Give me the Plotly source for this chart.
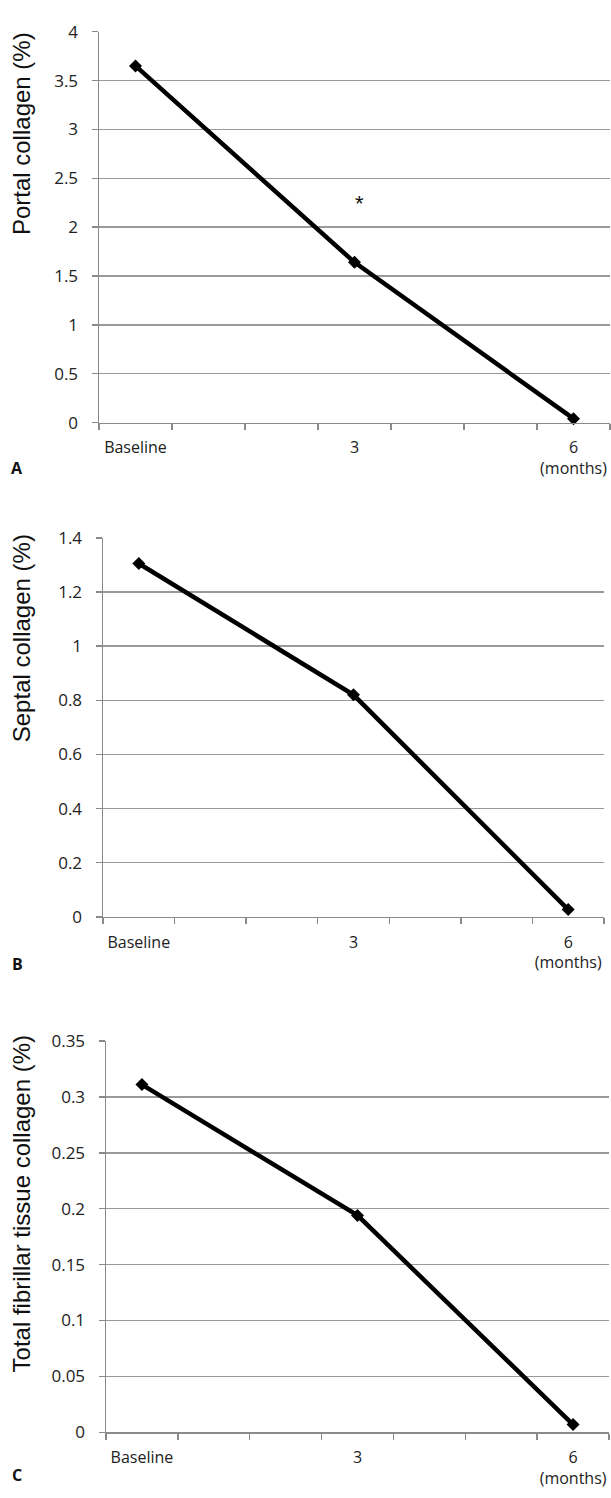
import plotly.graph_objects as go

# ---- data ----
months = [0, 3, 6]
x_labels = ["Baseline", "3", "6<br>(months)"]
portal = [3.65, 1.64, 0.04]
septal = [1.305, 0.82, 0.027]
total = [0.311, 0.194, 0.007]
titles = ["Portal collagen (%)", "Septal collagen (%)", "Total fibrillar tissue collagen (%)"]
panel_letters = ["A", "B", "C"]
y_ranges = [(0, 4), (0, 1.4), (0, 0.35)]
y_dticks = [0.5, 0.2, 0.05]
star_pos = (3.07, 2.24)

W, H = 611, 1498
# plot area boxes in pixels: (left, right, top, bottom)
boxes = [(99, 610, 20, 417), (103, 604, 534, 919), (106, 609, 1045, 1442.5)]
letter_y = [463, 967, 1486]
title_y = [124, 636, 1211]

fig = go.Figure()
series = [portal, septal, total]
GRID = "#9a9a9a"
AX = "#8a8a8a"
FONT = "Open Sans, Noto Sans, sans-serif"

for i in range(3):
    l, r, t, b = boxes[i]
    xa = "x" if i == 0 else f"x{i+1}"
    ya = "y" if i == 0 else f"y{i+1}"
    fig.add_trace(go.Scatter(
        x=months, y=series[i], mode="lines+markers",
        line=dict(color="black", width=4.5),
        marker=dict(symbol="diamond", size=10, color="black"),
        xaxis=xa, yaxis=ya, showlegend=False, cliponaxis=False))
    xkey = "xaxis" if i == 0 else f"xaxis{i+1}"
    ykey = "yaxis" if i == 0 else f"yaxis{i+1}"
    fig.update_layout(**{
        xkey: dict(
            domain=[l / W, r / W], anchor=ya, range=[-0.5, 6.5],
            tickvals=months, ticktext=x_labels, ticks="", showgrid=False,
            zeroline=False, showline=True, linecolor=AX, linewidth=1.5,
            tickfont=dict(family=FONT, size=16, color="#222"),
            ticklabelstandoff=10,
            minor=dict(tickvals=[k - 0.5 for k in range(8)], ticks="outside",
                       ticklen=6, tickcolor=AX, tickwidth=1.5, showgrid=False),
            fixedrange=True,
        ),
        ykey: dict(
            domain=[1 - b / H, 1 - t / H], anchor=xa, range=list(y_ranges[i]),
            dtick=y_dticks[i], tick0=0, showgrid=True, gridcolor=GRID, gridwidth=1.5,
            zeroline=False, showline=True, linecolor=AX, linewidth=1.5,
            ticks="outside", ticklen=6, tickcolor=AX, tickwidth=1.5,
            tickfont=dict(family=FONT, size=17, color="#222"),
            ticklabelstandoff=10, fixedrange=True,
        ),
    })
    fig.add_annotation(x=21 / W, y=1 - title_y[i] / H, xref="paper", yref="paper",
                       text=titles[i], textangle=-90, showarrow=False,
                       font=dict(family="Liberation Sans, Arial, sans-serif", size=24, color="#111"),
                       xanchor="center", yanchor="middle")
    fig.add_annotation(x=17 / W, y=1 - letter_y[i] / H, xref="paper", yref="paper",
                       text=f"<b>{panel_letters[i]}</b>", showarrow=False,
                       font=dict(family=FONT, size=16, color="#111"),
                       xanchor="center", yanchor="middle")

fig.add_annotation(x=star_pos[0], y=star_pos[1], xref="x", yref="y", text="*",
                   showarrow=False, font=dict(family="Liberation Sans, Arial, sans-serif", size=22, color="#111"))

fig.update_layout(width=W, height=H, margin=dict(l=0, r=0, t=0, b=0),
                  paper_bgcolor="white", plot_bgcolor="white")
fig.write_html("out.html", config={"displayModeBar": False, "staticPlot": True},
               post_script="document.body.style.margin='0';document.body.style.overflow='hidden';")
